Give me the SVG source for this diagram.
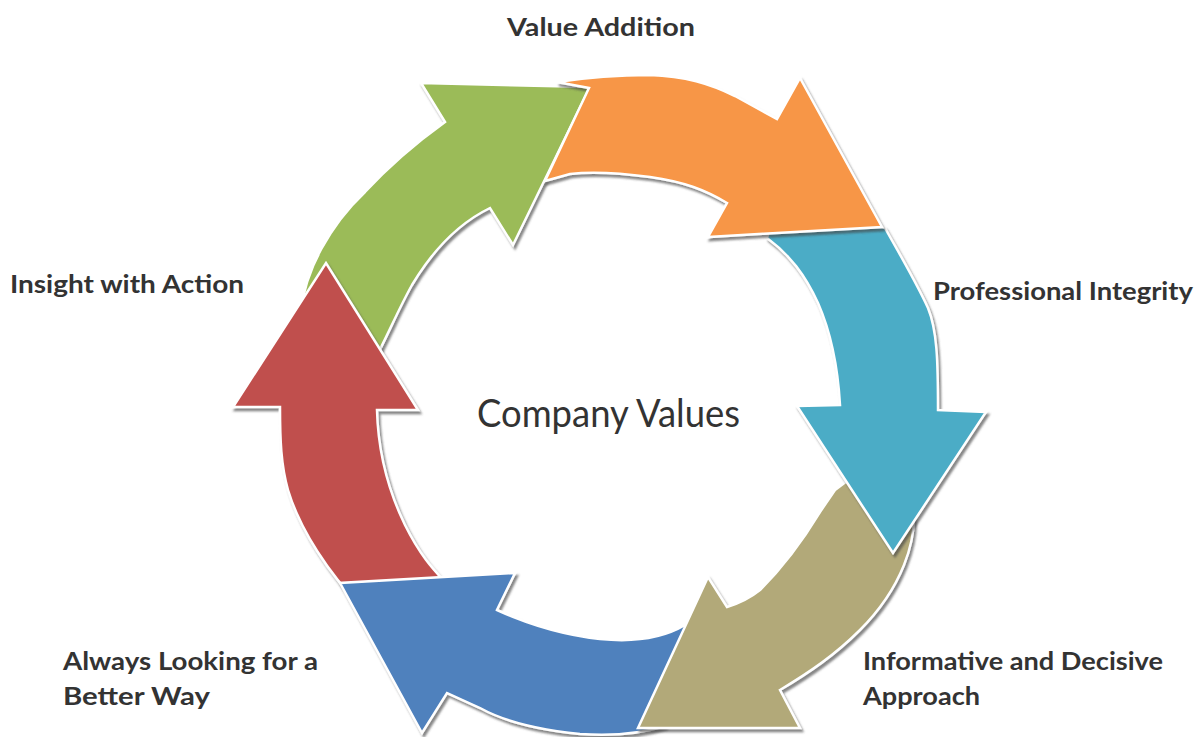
<svg xmlns="http://www.w3.org/2000/svg" width="1196" height="737" viewBox="0 0 1196 737">
<defs>
<filter id="sh" x="-10%" y="-10%" width="130%" height="130%">
<feDropShadow dx="2" dy="3" stdDeviation="1.2" flood-color="#444" flood-opacity="0.65"/>
</filter>
</defs>
<style>
.arrow{stroke:#ffffff;stroke-width:2.5;stroke-linejoin:miter;filter:url(#sh)}
.lbl{font-family:"Lato","Open Sans","Liberation Sans",sans-serif;font-weight:700;font-size:25px;fill:#333333}
.ctr{font-family:"Lato","Open Sans","Liberation Sans",sans-serif;font-weight:400;font-size:38px;fill:#333333}
</style>
<rect width="1196" height="737" fill="#ffffff"/>
<g id="connectors">
<g id="arrow-green">
<path class="arrow" fill="#9BBB59" d="M300,315 C305,270 330,225 365,192 C390,165 420,140 445,122 L421,83 L590,87 L513,245 L490,208 C455,225 430,255 412,285 C398,310 388,335 372,365 Z"/>
</g>
<g id="arrow-red">
<path class="arrow" fill="#C0504D" d="M360,605 C330,575 300,530 288,490 C281,465 280,440 280,407 L233,407 L326,263 L418,410 L377,410 C378,450 388,490 405,525 C420,555 432,568 445,582 L445,595 Z"/>
</g>
<g id="arrow-blue">
<path class="arrow" fill="#4F81BD" d="M700,640 L665,726 C640,734 610,736 580,734 C540,730 505,722 480,708 L447,693 L422,733 L340,583 L515,573 L497,610 C530,625 565,635 600,639 C630,642 660,640 685,625 Z"/>
</g>
<g id="arrow-khaki">
<path class="arrow" fill="#B2A979" d="M855,475 L912,500 C920,540 900,590 860,630 C835,655 810,672 780,690 L800,728 L638,728 L708,577 L727,607 C740,603 750,598 760,590 C780,570 800,545 820,512 L835,490 Z"/>
</g>
<g id="arrow-teal">
<path class="arrow" fill="#4BACC6" d="M872,222 L885,228 C900,255 915,280 928,308 C937,330 938,360 938,410 L986,412 L893,553 L797,406 L840,405 C838,370 832,335 818,303 C805,275 790,255 767,238 L770,228 Z"/>
</g>
<g id="arrow-orange">
<path class="arrow" fill="#F79646" d="M545,181 L589,88 L557,82 C590,77 625,75 650,75 C685,76 710,84 735,96 L777,119 L800,78 L882,227 L708,237 L727,203 C705,190 685,182 650,177 C620,173 595,171 570,174 Z"/>
</g>
</g>
<g id="node-value-addition"><text class="lbl" x="507" y="36" textLength="188" lengthAdjust="spacingAndGlyphs">Value  Addition</text></g>
<g id="node-professional-integrity"><text class="lbl" x="933" y="300" textLength="260" lengthAdjust="spacingAndGlyphs">Professional Integrity</text></g>
<g id="node-informative"><text class="lbl" x="863" y="670" textLength="300" lengthAdjust="spacingAndGlyphs">Informative and Decisive</text><text class="lbl" x="863" y="705" textLength="117" lengthAdjust="spacingAndGlyphs">Approach</text></g>
<g id="node-always-looking"><text class="lbl" x="63" y="670" textLength="255" lengthAdjust="spacingAndGlyphs">Always Looking for a</text><text class="lbl" x="63" y="705" textLength="147" lengthAdjust="spacingAndGlyphs">Better Way</text></g>
<g id="node-insight"><text class="lbl" x="10" y="293" textLength="234" lengthAdjust="spacingAndGlyphs">Insight with Action</text></g>
<g id="node-center"><text class="ctr" x="477" y="427" textLength="263" lengthAdjust="spacingAndGlyphs">Company Values</text></g>
</svg>
